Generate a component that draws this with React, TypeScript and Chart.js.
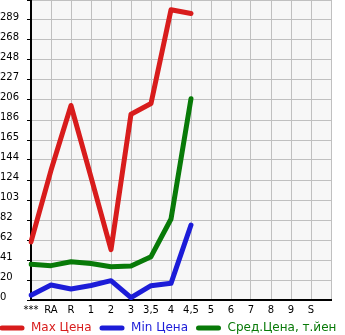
import React, { useEffect, useRef } from "react";
import { Chart, registerables } from "chart.js";

Chart.register(...registerables);

const categories = ["***", "RA", "R", "1", "2", "3", "3,5", "4", "4,5", "5", "6", "7", "8", "9", "S", ""];
const maxPrice = [60, 134, 201, 127, 52, 192, 203, 300, 296, null, null, null, null, null, null, null];
const minPrice = [5, 15.5, 11.4, 15, 20, 2.4, 14.8, 17.2, 77.5, null, null, null, null, null, null, null];
const avgPrice = [36.9, 35.5, 39.6, 37.7, 34.4, 35.1, 44.8, 83.7, 208, null, null, null, null, null, null, null];
const yTickLabels = ["0", "20", "41", "62", "82", "103", "124", "144", "165", "186", "206", "227", "248", "268", "289", ""];
const seriesNames = ["Max Цена", "Min Цена", "Сред.Цена, т.йен"];
const seriesColors = ["#d81c1c", "#1c1cd8", "#087a08"];

const Y_MAX = 310;
const Y_STEP = Y_MAX / 15;

export default function App() {
  const ref = useRef<HTMLCanvasElement | null>(null);
  useEffect(() => {
    document.body.style.margin = "0";
    const bgPlugin = {
      id: "plotBg",
      beforeDraw(chart: any) {
        const { ctx, chartArea } = chart;
        ctx.save();
        ctx.fillStyle = "#f7f7f7";
        ctx.fillRect(chartArea.left, chartArea.top, chartArea.right - chartArea.left, chartArea.bottom - chartArea.top);
        ctx.restore();
      },
    };
    const legendPlugin = {
      id: "rowLegend",
      afterDraw(chart: any) {
        const { ctx } = chart;
        const y = 328;
        ctx.save();
        ctx.font = "12px 'DejaVu Sans'";
        ctx.textBaseline = "middle";
        ctx.textAlign = "left";
        let x = 2;
        chart.data.datasets.forEach((ds: any, i: number) => {
          ctx.strokeStyle = seriesColors[i];
          ctx.lineWidth = 5;
          ctx.lineCap = "round";
          ctx.beginPath();
          ctx.moveTo(x, y);
          ctx.lineTo(x + 20, y);
          ctx.stroke();
          ctx.fillStyle = seriesColors[i];
          const tx = x + 29;
          ctx.fillText(ds.label, tx, y);
          x = tx + ctx.measureText(ds.label).width + 10.5;
        });
        ctx.restore();
      },
    };
    const datasets = [maxPrice, minPrice, avgPrice].map((d, i) => ({
      label: seriesNames[i],
      data: d,
      borderColor: seriesColors[i],
      backgroundColor: seriesColors[i],
      borderWidth: 5,
      pointRadius: 0,
      tension: 0,
      borderCapStyle: "round" as const,
      borderJoinStyle: "round" as const,
      spanGaps: false,
    }));
    const chart = new Chart(ref.current!, {
      type: "line",
      data: { labels: categories, datasets },
      plugins: [bgPlugin, legendPlugin],
      options: {
        animation: false,
        responsive: true,
        maintainAspectRatio: false,
        layout: { padding: { left: 0, right: 14, top: 0, bottom: 18 } },
        plugins: {
          tooltip: { enabled: false },
          legend: { display: false },
        },
        scales: {
          x: {
            offset: false,
            grid: { color: "#c0c0c0", lineWidth: 1, drawTicks: false },
            border: { color: "#000", width: 2 },
            ticks: {
              autoSkip: false,
              maxRotation: 0,
              padding: 4,
              color: "#000",
              font: { family: "DejaVu Sans", size: 10 },
            },
            afterFit: (s: any) => {
              s.height = 17;
            },
          },
          y: {
            min: 0,
            max: Y_MAX,
            grid: { color: "#c0c0c0", lineWidth: 1, tickLength: 4, tickColor: "#000" },
            border: { color: "#000", width: 2 },
            ticks: {
              stepSize: Y_STEP,
              autoSkip: false,
              crossAlign: "far",
              labelOffset: -3,
              color: "#000",
              font: { family: "DejaVu Sans", size: 10 },
              callback: (_v: any, i: number) => yTickLabels[i] ?? "",
            },
            afterFit: (s: any) => {
              s.width = 31;
              s.paddingTop = 0;
              s.paddingBottom = 0;
            },
          },
        },
      },
    });
    return () => chart.destroy();
  }, []);
  return (
    <div style={{ width: 345, height: 335, position: "relative" }}>
      <canvas ref={ref} />
    </div>
  );
}
